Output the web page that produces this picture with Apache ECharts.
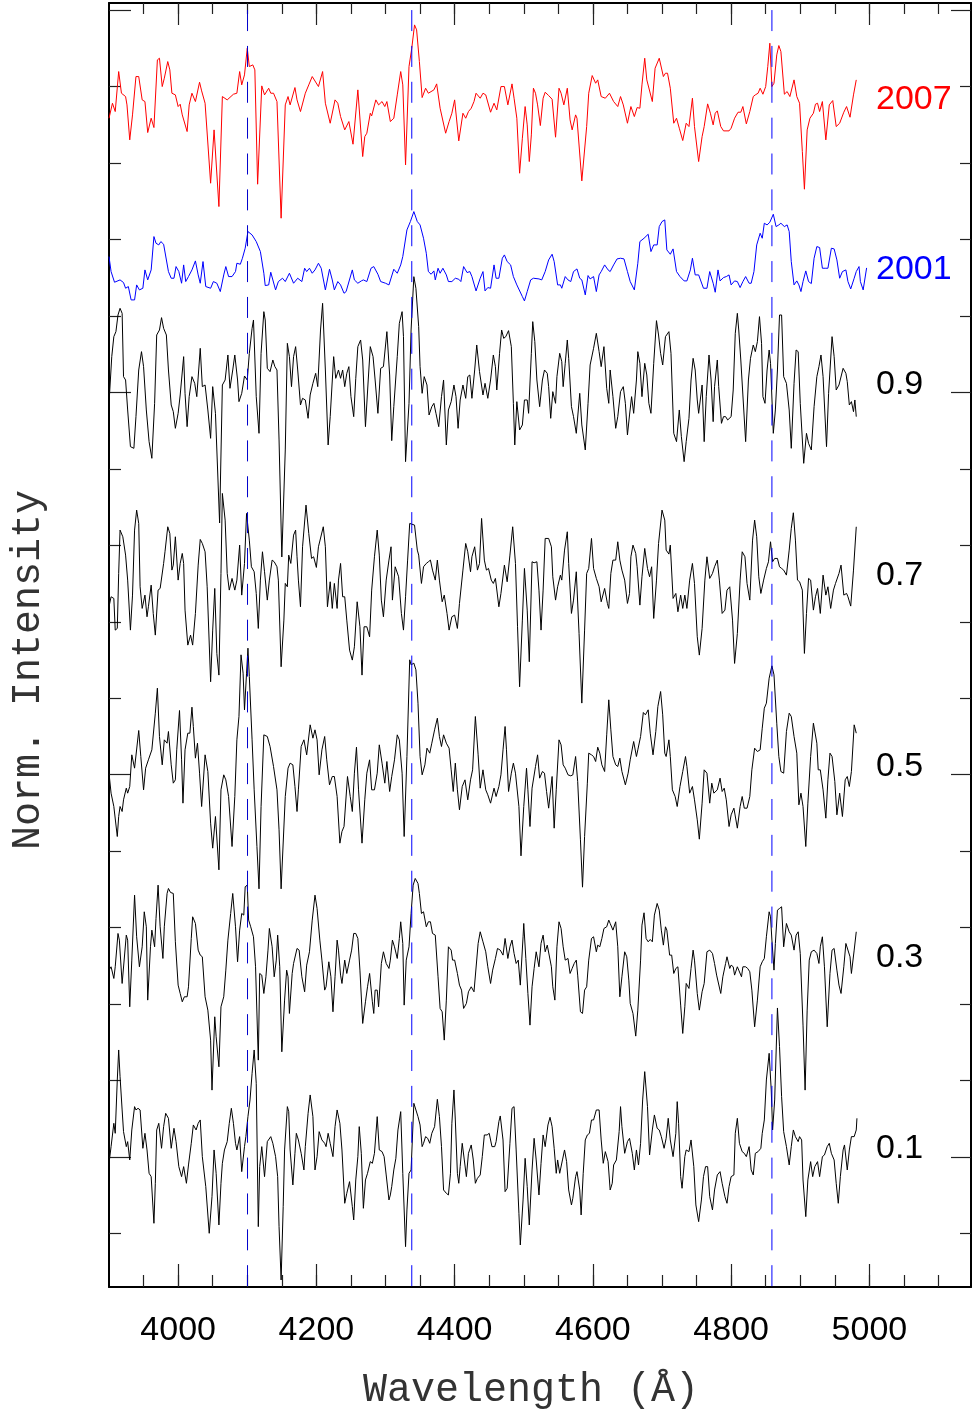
<!DOCTYPE html>
<html>
<head>
<meta charset="utf-8">
<title>Norm. Intensity vs Wavelength</title>
<script src="https://cdn.jsdelivr.net/npm/echarts@6/dist/echarts.min.js"></script>
<style>
    html, body { margin: 0; padding: 0; background: #fff; }
    #chart { width: 972px; height: 1414px; }
</style>
</head>
<body>
<div id="chart"></div>
<script>
// [wavelength (A), relative flux] ; flux in units of 1/1147 of the intensity axis
var spec2007 = [[3900,-40],[3905,5],[3909,-20],[3914,100],[3918,35],[3924,25],[3926,0],[3930,-105],[3934,-30],[3939,85],[3943,85],[3948,15],[3952,10],[3956,-83],[3961,-40],[3965,-68],[3970,135],[3973,140],[3977,55],[3980,80],[3985,130],[3988,105],[3991,35],[3996,30],[4000,-5],[4003,2],[4006,-30],[4013,-80],[4016,0],[4020,35],[4025,10],[4031,68],[4034,42],[4039,5],[4047,-235],[4052,-75],[4059,-305],[4064,25],[4071,15],[4080,32],[4085,35],[4089,100],[4092,60],[4096,90],[4100,170],[4103,115],[4108,120],[4111,105],[4115,-238],[4121,57],[4125,30],[4131,50],[4134,35],[4138,35],[4143,10],[4149,-340],[4155,0],[4159,25],[4162,0],[4169,52],[4172,15],[4177,-20],[4184,35],[4189,60],[4194,85],[4203,55],[4209,100],[4213,5],[4220,-55],[4227,15],[4231,5],[4235,-35],[4241,-75],[4247,-50],[4253,-118],[4260,45],[4267,-155],[4270,-95],[4273,-85],[4278,-25],[4280,-33],[4286,15],[4290,0],[4295,10],[4299,-5],[4302,10],[4307,-50],[4312,-40],[4317,30],[4322,100],[4325,60],[4329,-180],[4334,115],[4338,170],[4342,240],[4345,225],[4349,130],[4353,22],[4358,50],[4362,35],[4370,45],[4374,63],[4379,-10],[4387,-85],[4392,-50],[4396,-25],[4400,15],[4406,-108],[4412,-25],[4416,-40],[4420,-20],[4424,-10],[4428,10],[4431,35],[4437,20],
    [4441,35],[4445,30],[4452,-22],[4457,5],[4461,-15],[4467,55],[4472,55],[4477,0],[4483,63],[4486,20],[4490,-40],[4494,-205],[4498,-100],[4502,-5],[4505,-60],[4508,-170],[4511,-90],[4514,50],[4517,35],[4520,0],[4524,-62],[4528,20],[4531,38],[4536,28],[4541,17],[4546,-97],[4551,50],[4554,35],[4558,0],[4563,50],[4567,-45],[4570,-75],[4575,-30],[4577,-40],[4584,-228],[4591,-65],[4594,35],[4599,88],[4604,65],[4607,75],[4612,25],[4618,20],[4624,35],[4630,10],[4636,-5],[4640,25],[4644,0],[4650,-55],[4655,-5],[4660,-35],[4664,-8],[4668,-10],[4671,60],[4675,140],[4678,75],[4686,10],[4690,110],[4696,140],[4702,85],[4705,95],[4708,95],[4712,50],[4717,-55],[4721,-40],[4725,-70],[4730,-107],[4735,-55],[4739,-65],[4744,20],[4747,-65],[4753,-170],[4758,-95],[4761,-65],[4766,3],[4770,-25],[4774,-60],[4777,-25],[4780,-18],[4785,-65],[4789,-78],[4797,-78],[4800,-70],[4805,-40],[4810,-22],[4814,-22],[4817,-5],[4822,-57],[4827,-20],[4832,25],[4835,30],[4839,35],[4842,50],[4846,32],[4850,55],[4853,115],[4856,185],[4859,55],[4862,65],[4866,150],[4869,178],[4872,160],[4877,32],[4881,40],[4885,25],[4891,75],[4895,25],[4899,5],[4903,-140],[4906,-253],[4910,-75],[4914,-40],[4919,-25],[4922,2],[4925,5],[4928,-20],[4932,10],[4937,-105],[4942,0],[4947,13],[4952,-65],[4957,-55],[4963,-22],[4967,-5],[4972,-37],[4977,30],[4981,75]];

var spec2001 = [[3900,45],[3903,0],[3908,-32],[3916,-25],[3921,-33],[3924,-50],[3928,-45],[3932,-85],[3937,-85],[3940,-40],[3944,-55],[3949,-50],[3952,5],[3956,-25],[3961,5],[3965,105],[3968,85],[3972,80],[3975,90],[3979,82],[3981,88],[3986,0],[3990,-20],[3994,-20],[3997,15],[4001,0],[4005,-35],[4008,20],[4011,-30],[4015,-15],[4020,5],[4025,32],[4029,-10],[4032,-35],[4036,30],[4040,-45],[4047,-50],[4051,-30],[4056,-35],[4061,-60],[4066,-10],[4069,15],[4073,-15],[4078,-15],[4083,0],[4085,25],[4090,22],[4093,40],[4097,70],[4101,120],[4107,110],[4113,90],[4119,60],[4124,-5],[4126,-42],[4131,-40],[4134,-2],[4141,-55],[4145,-30],[4151,-20],[4155,-30],[4161,-5],[4167,-35],[4173,-20],[4179,-30],[4183,10],[4186,0],[4190,10],[4194,-5],[4198,5],[4203,25],[4207,10],[4213,-55],[4219,7],[4223,-25],[4226,-55],[4231,-30],[4235,-40],[4240,-65],[4243,-60],[4252,5],[4255,-25],[4260,-35],[4265,-28],[4268,-25],[4273,-30],[4279,10],[4283,15],[4289,-8],[4293,-30],[4300,-35],[4305,-40],[4312,7],[4317,-5],[4322,20],[4325,45],[4331,125],[4336,150],[4341,180],[4346,150],[4350,140],[4355,100],[4359,55],[4362,0],[4366,-8],[4370,2],[4372,-25],[4376,10],[4379,-5],[4383,10],[4388,-10],[4391,-30],[4396,-30],[4401,-20],[4406,-23],[4409,-30],[4413,15],[4418,-3],[4422,0],[4425,-15],[4431,-58],[4437,-20],
    [4441,0],[4444,-58],[4448,-48],[4452,-50],[4457,20],[4460,-20],[4464,-20],[4469,40],[4472,50],[4476,30],[4481,20],[4485,-15],[4490,-40],[4498,-75],[4501,-88],[4505,-60],[4510,-25],[4514,-20],[4522,-22],[4526,-25],[4531,0],[4536,35],[4541,52],[4544,30],[4549,-40],[4553,-40],[4555,-50],[4560,-15],[4564,-25],[4568,-30],[4572,0],[4577,8],[4581,-20],[4584,-25],[4589,-70],[4593,-12],[4596,-22],[4601,-15],[4605,-60],[4609,-10],[4612,0],[4617,20],[4622,5],[4625,0],[4630,20],[4635,38],[4640,40],[4645,38],[4650,0],[4654,-30],[4660,-55],[4665,25],[4668,90],[4674,100],[4680,112],[4684,60],[4688,80],[4693,80],[4696,135],[4700,150],[4704,155],[4707,65],[4712,52],[4716,68],[4721,0],[4726,-15],[4732,-28],[4736,-28],[4741,5],[4744,40],[4748,-10],[4753,-10],[4760,-50],[4765,-50],[4769,0],[4774,-35],[4777,-62],[4781,5],[4784,-28],[4789,-18],[4793,-15],[4797,-10],[4800,-40],[4805,-28],[4809,-30],[4813,-48],[4817,-30],[4821,-15],[4826,-35],[4829,-35],[4833,0],[4837,80],[4842,115],[4845,100],[4848,145],[4852,140],[4856,148],[4861,172],[4865,135],[4869,140],[4872,145],[4877,135],[4881,140],[4884,120],[4887,30],[4891,-40],[4895,-28],[4898,-40],[4901,-60],[4904,-30],[4908,2],[4912,-30],[4916,-36],[4920,40],[4924,75],[4928,72],[4932,10],[4937,10],[4940,10],[4945,70],[4949,68],[4953,35],[4957,-20],[4961,0],[4966,5],[4969,-30],[4973,-52],[4978,-20],[4981,0],[4985,15],[4987,-30],[4991,-55],[4996,11]];

var phase09 = [[3900,-50],[3904,90],[3907,150],[3910,165],[3913,215],[3916,235],[3919,220],[3921,30],[3924,20],[3927,-70],[3931,-180],[3936,-185],[3939,-90],[3943,50],[3947,105],[3950,60],[3954,-70],[3958,-165],[3962,-215],[3966,-50],[3969,155],[3973,170],[3976,207],[3979,175],[3983,155],[3986,50],[3990,-55],[3993,-75],[3996,-125],[4000,-80],[4003,-25],[4008,90],[4010,-20],[4013,-120],[4016,-30],[4020,30],[4024,10],[4027,-30],[4032,115],[4035,0],[4039,5],[4043,-70],[4047,-155],[4050,0],[4054,-80],[4060,-409],[4064,5],[4068,20],[4072,95],[4075,-5],[4079,50],[4082,95],[4086,20],[4088,-45],[4092,-20],[4096,32],[4100,20],[4103,100],[4107,175],[4109,200],[4113,-30],[4117,-140],[4120,100],[4124,225],[4126,200],[4129,55],[4133,45],[4137,80],[4140,60],[4143,50],[4146,-160],[4150,-511],[4155,-190],[4158,130],[4161,90],[4164,0],[4167,90],[4170,120],[4173,50],[4177,-55],[4180,-35],[4184,-40],[4188,-95],[4191,-25],[4195,10],[4199,40],[4202,0],[4206,170],[4209,250],[4213,50],[4217,-175],[4220,-90],[4225,90],[4228,25],[4232,50],[4235,25],[4238,50],[4241,0],[4244,40],[4247,60],[4250,-30],[4254,-90],[4257,25],[4260,120],[4264,140],[4267,80],[4271,-120],[4275,20],[4278,120],[4282,90],[4285,20],[4289,-80],[4293,55],[4297,60],[4302,165],[4306,35],[4309,-162],[4312,-60],[4317,90],[4320,190],[4324,225],[4326,150],[4329,-225],[4331,-230],[4334,-50],[4337,170],[4341,330],[4344,295],[4348,180],[4350,60],[4353,-20],[4356,30],[4360,5],[4363,-85],[4367,-60],[4370,-50],[4373,-80],[4377,-120],[4381,-30],[4384,20],[4388,-175],[4391,-70],[4395,-45],[4399,5],[4402,-30],[4405,-125],[4408,-40],[4412,5],[4416,-35],[4419,30],[4422,35],[4425,-35],[4429,50],[4432,125],[4436,45],
    [4441,-25],[4444,10],[4448,-35],[4452,20],[4456,95],[4459,60],[4461,-10],[4465,100],[4468,170],[4471,145],[4474,150],[4478,168],[4482,120],[4485,-50],[4487,-175],[4490,-45],[4494,-130],[4498,-115],[4501,-40],[4505,-40],[4507,-80],[4511,100],[4513,195],[4516,135],[4519,20],[4523,-60],[4527,20],[4530,50],[4534,40],[4536,0],[4539,-95],[4542,-15],[4546,-50],[4548,30],[4552,100],[4555,75],[4557,0],[4560,70],[4563,140],[4565,85],[4569,-60],[4572,-90],[4576,-140],[4581,-20],[4584,-115],[4589,-190],[4593,-50],[4596,65],[4601,115],[4605,160],[4609,105],[4612,60],[4616,120],[4620,-5],[4623,-50],[4625,50],[4629,-30],[4633,-125],[4636,-90],[4640,-15],[4644,0],[4647,-50],[4650,-145],[4653,-85],[4656,-30],[4659,-80],[4663,20],[4665,105],[4668,70],[4671,-30],[4675,70],[4678,35],[4681,-50],[4684,-80],[4688,70],[4692,198],[4695,155],[4698,100],[4701,65],[4705,150],[4710,165],[4713,100],[4717,-140],[4721,-165],[4725,-70],[4728,-150],[4732,-225],[4735,-165],[4739,-95],[4742,20],[4745,85],[4748,50],[4751,-40],[4753,-80],[4758,5],[4761,-165],[4764,-30],[4768,95],[4771,20],[4774,-105],[4776,0],[4780,80],[4782,0],[4786,-110],[4789,-90],[4792,-90],[4795,-100],[4800,-90],[4803,-10],[4806,160],[4809,220],[4811,170],[4814,80],[4817,-25],[4821,-165],[4825,20],[4828,85],[4832,125],[4835,105],[4838,135],[4841,210],[4844,130],[4846,-30],[4849,-50],[4852,50],[4855,110],[4857,70],[4861,-140],[4864,-70],[4867,50],[4870,215],[4873,215],[4876,30],[4880,10],[4884,-70],[4887,-185],[4891,10],[4894,110],[4897,105],[4900,-50],[4905,-230],[4909,-140],[4912,-170],[4916,-190],[4920,-60],[4924,30],[4927,60],[4930,95],[4933,30],[4938,-180],[4941,-20],[4946,150],[4949,90],[4952,-10],[4956,5],[4958,5],[4962,55],[4966,40],[4968,15],[4971,-55],[4974,-45],[4977,-75],[4979,-40],[4981,-90]];

var phase07 = [[3900,-80],[3903,-50],[3907,-55],[3909,-150],[3912,-145],[3914,20],[3916,150],[3920,130],[3924,75],[3927,0],[3931,-150],[3934,-45],[3937,150],[3940,210],[3943,170],[3945,-20],[3948,-85],[3952,-45],[3955,-110],[3957,-80],[3961,-15],[3964,-100],[3967,-165],[3971,-30],[3974,-25],[3979,50],[3981,85],[3985,160],[3988,140],[3991,30],[3993,45],[3996,130],[4000,0],[4003,50],[4006,80],[4008,50],[4010,-90],[4014,-195],[4018,-165],[4021,-195],[4025,-100],[4029,45],[4032,122],[4035,110],[4039,85],[4042,-20],[4047,-305],[4050,-150],[4053,-25],[4056,-220],[4059,-285],[4062,20],[4064,260],[4068,180],[4071,20],[4074,-30],[4078,5],[4082,-30],[4085,0],[4089,105],[4092,-45],[4096,50],[4099,200],[4103,120],[4106,40],[4110,25],[4113,-40],[4116,-145],[4119,0],[4122,85],[4125,25],[4129,-60],[4132,0],[4136,60],[4139,55],[4143,40],[4145,0],[4149,-260],[4153,-120],[4155,-10],[4158,-20],[4160,75],[4163,50],[4167,135],[4170,150],[4172,70],[4174,0],[4177,-80],[4180,100],[4185,225],[4189,140],[4193,65],[4196,70],[4200,38],[4203,100],[4210,160],[4213,100],[4216,-80],[4220,-5],[4223,-85],[4226,-10],[4230,-85],[4232,0],[4235,50],[4238,-50],[4241,-50],[4244,-120],[4248,-210],[4252,-240],[4255,-200],[4259,-65],[4263,-140],[4266,-285],[4269,-140],[4273,-140],[4277,-170],[4280,-30],[4284,70],[4288,150],[4291,75],[4294,-60],[4297,-110],[4301,0],[4305,60],[4308,100],[4310,-60],[4314,40],[4319,10],[4323,-100],[4326,-150],[4329,-50],[4332,60],[4335,170],[4337,172],[4342,165],[4346,90],[4348,75],[4352,-10],[4355,40],[4359,50],[4362,55],[4365,60],[4368,30],[4372,0],[4375,60],[4378,0],[4382,-65],[4385,-45],[4389,-100],[4392,-150],[4396,-110],[4400,-105],[4404,-145],[4407,-70],[4412,30],[4416,110],[4419,85],[4423,25],[4425,70],[4429,100],[4433,30],[4436,50],
    [4439,185],[4443,60],[4446,30],[4449,35],[4453,0],[4456,-10],[4459,5],[4464,-80],[4467,-40],[4472,45],[4476,-5],[4480,75],[4484,160],[4488,50],[4491,-140],[4494,-320],[4498,-120],[4501,35],[4505,-90],[4508,-245],[4512,55],[4515,52],[4519,55],[4522,-30],[4525,-150],[4528,-30],[4531,125],[4536,125],[4540,100],[4542,10],[4546,-60],[4549,-20],[4553,15],[4555,0],[4559,90],[4563,145],[4565,50],[4569,-100],[4572,-60],[4576,25],[4580,-160],[4584,-369],[4588,-150],[4591,20],[4594,35],[4598,125],[4601,35],[4605,5],[4609,-20],[4612,-65],[4617,-25],[4621,-70],[4623,-85],[4626,20],[4629,60],[4633,60],[4636,115],[4639,60],[4642,30],[4646,0],[4650,-70],[4653,-40],[4655,70],[4658,105],[4662,80],[4664,40],[4668,-75],[4671,10],[4675,95],[4679,35],[4682,10],[4685,40],[4688,-115],[4692,0],[4695,110],[4700,210],[4704,180],[4706,90],[4710,78],[4712,105],[4716,-55],[4720,-40],[4723,-95],[4727,-45],[4730,-85],[4733,-45],[4736,-85],[4740,0],[4744,50],[4747,-10],[4751,-170],[4754,-225],[4758,-145],[4762,0],[4765,70],[4769,5],[4773,20],[4776,40],[4780,60],[4783,0],[4787,-100],[4791,-90],[4794,-30],[4798,-20],[4802,-120],[4805,-250],[4809,-160],[4813,0],[4816,85],[4820,70],[4823,-10],[4827,-60],[4831,120],[4834,180],[4837,130],[4840,10],[4843,-40],[4847,0],[4851,35],[4854,55],[4857,115],[4860,55],[4863,65],[4867,65],[4870,40],[4873,35],[4876,30],[4880,15],[4884,90],[4887,155],[4890,202],[4893,120],[4896,0],[4899,-5],[4903,-30],[4906,-220],[4909,-100],[4912,5],[4915,0],[4919,-90],[4922,-50],[4925,-25],[4929,-100],[4933,15],[4937,-45],[4940,-20],[4944,-85],[4948,-30],[4951,-10],[4956,20],[4959,45],[4963,-45],[4967,-40],[4969,-50],[4973,-78],[4977,30],[4981,160]];

var phase05 = [[3900,0],[3903,-60],[3907,-100],[3912,-190],[3914,-130],[3916,-100],[3919,-115],[3921,-80],[3925,-45],[3927,-60],[3930,-40],[3933,55],[3937,15],[3943,128],[3946,50],[3950,-50],[3953,15],[3957,40],[3962,70],[3967,180],[3970,255],[3973,110],[3977,25],[3980,100],[3984,90],[3986,125],[3990,25],[3993,-30],[3996,-20],[3998,70],[4002,188],[4005,40],[4007,-90],[4010,70],[4014,120],[4017,120],[4020,198],[4022,140],[4025,45],[4028,90],[4031,0],[4034,-100],[4039,55],[4043,5],[4047,-150],[4050,-225],[4054,-130],[4059,-290],[4062,-50],[4066,-5],[4069,-20],[4073,-70],[4078,-220],[4082,-70],[4085,100],[4088,170],[4091,355],[4094,300],[4096,190],[4099,300],[4101,375],[4103,290],[4107,100],[4110,-50],[4114,-220],[4117,-347],[4120,-100],[4124,115],[4129,110],[4133,80],[4138,20],[4143,-50],[4146,-170],[4149,-347],[4155,-70],[4159,15],[4162,30],[4166,25],[4169,-40],[4172,-115],[4174,-50],[4178,80],[4182,100],[4186,55],[4191,145],[4195,105],[4198,130],[4201,100],[4204,-5],[4208,70],[4212,110],[4215,40],[4219,-35],[4223,-10],[4226,-10],[4230,-70],[4234,-210],[4237,-175],[4240,-160],[4245,-10],[4249,-70],[4252,-115],[4255,0],[4258,78],[4261,-50],[4266,-210],[4270,-80],[4273,0],[4277,40],[4280,-50],[4284,-50],[4288,0],[4291,85],[4295,30],[4299,-30],[4302,35],[4306,-55],[4309,-10],[4313,40],[4317,115],[4320,100],[4324,0],[4327,-190],[4331,50],[4335,340],[4337,325],[4341,330],[4344,310],[4347,210],[4350,50],[4353,-5],[4357,25],[4360,75],[4364,60],[4367,90],[4371,130],[4375,165],[4378,110],[4381,80],[4384,115],[4388,90],[4392,75],[4395,10],[4398,-55],[4401,30],[4404,-50],[4407,-110],[4411,-40],[4415,-20],[4419,-80],[4423,-20],[4426,10],[4430,170],[4434,55],[4437,-45],
    [4441,10],[4445,-50],[4448,-65],[4452,-90],[4457,-45],[4460,-70],[4464,-40],[4467,-5],[4470,70],[4473,140],[4475,70],[4478,-55],[4482,0],[4485,30],[4488,0],[4490,-5],[4493,-100],[4496,-248],[4500,-100],[4504,15],[4506,-50],[4509,-160],[4512,-45],[4517,20],[4520,55],[4523,-15],[4527,5],[4530,0],[4533,-55],[4536,-105],[4541,-10],[4544,-165],[4547,-50],[4551,100],[4554,85],[4557,25],[4560,15],[4564,-5],[4568,-8],[4571,-5],[4575,50],[4578,-25],[4582,-200],[4585,-342],[4588,-190],[4592,-30],[4594,60],[4598,55],[4601,50],[4604,35],[4607,78],[4610,60],[4613,25],[4617,5],[4620,115],[4623,220],[4626,130],[4629,50],[4633,25],[4636,20],[4639,45],[4642,5],[4647,-35],[4651,0],[4654,40],[4659,95],[4663,50],[4665,70],[4669,110],[4673,182],[4676,175],[4680,190],[4683,120],[4687,55],[4691,125],[4694,200],[4698,245],[4701,175],[4704,60],[4706,50],[4710,100],[4712,50],[4715,-50],[4719,-70],[4722,-100],[4726,-40],[4730,5],[4734,50],[4736,20],[4740,-60],[4744,-40],[4747,-80],[4751,-140],[4754,-198],[4758,-90],[4761,10],[4765,0],[4769,-90],[4772,-30],[4775,-60],[4780,-50],[4784,-15],[4787,-55],[4790,-45],[4793,-80],[4797,-160],[4800,-125],[4804,-105],[4809,-165],[4813,-100],[4816,-70],[4819,-105],[4823,-105],[4827,-70],[4830,10],[4834,75],[4838,65],[4842,70],[4845,135],[4848,195],[4851,210],[4855,285],[4859,322],[4862,295],[4866,150],[4869,50],[4872,5],[4876,0],[4880,125],[4884,180],[4887,170],[4891,110],[4895,60],[4898,-95],[4901,-60],[4904,-100],[4908,-220],[4911,-90],[4915,50],[4919,150],[4921,155],[4924,90],[4926,10],[4929,10],[4933,-50],[4937,-135],[4940,-20],[4943,60],[4946,50],[4950,-25],[4953,-125],[4957,-60],[4961,-130],[4965,-20],[4968,-10],[4971,-40],[4974,5],[4978,145],[4981,120]];

var phase03 = [[3900,-30],[3903,-20],[3907,-55],[3909,-20],[3913,80],[3915,60],[3919,-70],[3921,-75],[3925,75],[3927,60],[3930,-140],[3933,0],[3937,195],[3940,70],[3944,-20],[3948,40],[3951,145],[3954,100],[3956,-120],[3960,40],[3962,90],[3966,40],[3968,125],[3971,225],[3974,100],[3978,5],[3980,100],[3984,200],[3986,215],[3989,203],[3993,200],[3996,55],[4000,-75],[4003,-100],[4006,-125],[4009,-110],[4013,-110],[4015,-80],[4019,65],[4021,130],[4025,110],[4029,30],[4032,15],[4035,10],[4039,-110],[4043,-150],[4047,-240],[4049,-390],[4053,-170],[4055,-230],[4059,-320],[4062,-140],[4066,-110],[4069,-30],[4072,60],[4076,140],[4079,200],[4083,100],[4086,-5],[4089,90],[4092,140],[4095,135],[4097,220],[4100,225],[4102,120],[4105,100],[4109,70],[4112,-20],[4116,-300],[4118,-40],[4121,-45],[4124,-100],[4127,-50],[4130,30],[4132,95],[4136,40],[4139,-50],[4142,0],[4144,75],[4147,-20],[4150,-275],[4154,-120],[4157,-30],[4159,-50],[4161,-160],[4165,-40],[4167,-10],[4172,35],[4175,30],[4179,-50],[4183,-95],[4186,-15],[4190,25],[4194,120],[4198,195],[4201,155],[4205,60],[4208,0],[4212,-90],[4214,-80],[4218,-5],[4221,-50],[4224,-155],[4227,-50],[4230,60],[4232,30],[4235,-45],[4237,-70],[4241,0],[4244,-40],[4248,0],[4251,30],[4254,80],[4257,80],[4260,65],[4263,-30],[4267,-190],[4271,-125],[4274,-80],[4277,-40],[4281,-125],[4283,-160],[4285,-90],[4288,-90],[4290,-140],[4294,-10],[4297,25],[4301,-10],[4305,-25],[4307,0],[4310,60],[4313,40],[4317,5],[4320,65],[4322,115],[4325,50],[4327,-135],[4330,0],[4334,40],[4337,140],[4340,225],[4343,245],[4347,230],[4349,200],[4352,140],[4355,145],[4359,100],[4362,115],[4365,115],[4368,80],[4372,75],[4376,-50],[4379,-145],[4382,-155],[4385,-240],[4388,-120],[4391,40],[4395,30],[4397,0],[4400,0],[4404,-40],[4407,-75],[4410,-90],[4413,-145],[4417,-130],[4420,-95],[4424,-80],[4428,-95],[4430,-100],[4434,50],[4437,85],
    [4441,55],[4445,25],[4448,-20],[4452,-70],[4455,-30],[4459,5],[4462,35],[4466,30],[4470,15],[4473,65],[4477,5],[4480,40],[4483,60],[4486,20],[4489,-10],[4492,0],[4495,-75],[4499,70],[4500,110],[4503,5],[4506,-100],[4509,-195],[4512,-80],[4515,-25],[4518,25],[4522,-20],[4525,50],[4528,75],[4531,25],[4534,45],[4536,50],[4540,-20],[4542,-80],[4545,-120],[4548,40],[4551,115],[4554,95],[4557,40],[4560,0],[4564,5],[4567,-40],[4570,-25],[4573,-10],[4576,0],[4578,-45],[4582,-155],[4585,-160],[4588,-90],[4591,-80],[4594,0],[4598,65],[4601,70],[4605,25],[4607,45],[4610,40],[4613,65],[4616,95],[4620,100],[4623,120],[4625,110],[4629,90],[4633,115],[4636,40],[4639,-110],[4642,-50],[4646,25],[4649,10],[4652,-60],[4654,-130],[4658,-160],[4662,-228],[4665,-150],[4669,0],[4671,105],[4674,142],[4677,65],[4680,55],[4683,62],[4686,55],[4689,135],[4693,170],[4696,150],[4699,90],[4702,45],[4705,100],[4707,90],[4711,15],[4714,15],[4717,-40],[4720,-25],[4723,-20],[4727,-135],[4730,-220],[4733,-140],[4735,-70],[4739,-85],[4742,-25],[4745,30],[4747,0],[4751,-100],[4754,-150],[4758,-95],[4761,-70],[4765,25],[4769,30],[4773,20],[4776,-10],[4779,-45],[4781,-40],[4785,-100],[4788,-50],[4792,-10],[4794,10],[4798,-25],[4800,-15],[4803,-20],[4805,-45],[4809,-20],[4811,-30],[4815,-50],[4817,-20],[4821,-20],[4824,-25],[4827,-35],[4830,-90],[4834,-200],[4838,-120],[4842,-20],[4845,-5],[4848,5],[4851,70],[4855,145],[4857,130],[4859,60],[4862,-30],[4864,50],[4867,150],[4870,155],[4873,160],[4876,40],[4880,110],[4884,85],[4887,75],[4891,30],[4894,75],[4897,85],[4900,20],[4904,-195],[4907,-390],[4910,-150],[4913,0],[4916,25],[4920,30],[4924,20],[4927,-10],[4929,40],[4932,70],[4935,-20],[4939,-200],[4943,-40],[4946,30],[4949,35],[4953,-30],[4956,-75],[4959,-100],[4963,-20],[4966,50],[4968,55],[4972,10],[4974,-40],[4978,30],[4981,85]];

var phase01 = [[3900,-20],[3903,30],[3907,100],[3909,70],[3912,230],[3914,320],[3916,240],[3919,140],[3921,75],[3925,30],[3927,45],[3930,-10],[3933,80],[3937,150],[3939,140],[3942,145],[3945,140],[3949,25],[3952,70],[3955,20],[3958,-50],[3961,-60],[3965,-200],[3967,-80],[3969,80],[3972,100],[3976,25],[3979,90],[3982,130],[3986,115],[3990,25],[3994,85],[3997,45],[4001,-30],[4005,-60],[4008,-30],[4012,-80],[4015,-25],[4019,40],[4022,95],[4026,80],[4029,100],[4032,110],[4035,0],[4037,-5],[4040,-90],[4045,-230],[4049,-120],[4052,20],[4055,-50],[4059,-205],[4062,-80],[4064,-20],[4067,20],[4071,45],[4074,100],[4077,145],[4080,100],[4083,40],[4085,20],[4089,60],[4092,-45],[4096,30],[4098,60],[4101,120],[4104,170],[4107,250],[4110,320],[4113,220],[4116,-210],[4118,-30],[4121,30],[4125,-60],[4129,45],[4131,50],[4134,60],[4137,40],[4141,0],[4144,-60],[4146,-210],[4149,-370],[4152,-150],[4154,20],[4158,150],[4160,135],[4162,20],[4166,-85],[4169,10],[4171,70],[4174,50],[4178,10],[4182,-40],[4184,30],[4188,130],[4191,185],[4195,120],[4198,-40],[4201,0],[4204,75],[4208,50],[4212,40],[4214,30],[4217,70],[4220,40],[4224,0],[4227,90],[4230,140],[4234,100],[4237,20],[4241,-140],[4244,-110],[4248,-75],[4252,-150],[4254,-190],[4257,-70],[4260,0],[4262,90],[4265,10],[4268,-155],[4271,-70],[4274,-50],[4278,-15],[4281,-20],[4284,10],[4288,120],[4291,20],[4295,15],[4298,0],[4301,-55],[4305,-130],[4307,-115],[4309,-90],[4312,-40],[4315,-5],[4318,80],[4322,135],[4325,-50],[4329,-270],[4331,-160],[4334,-50],[4337,-40],[4341,160],[4343,165],[4347,120],[4350,95],[4353,30],[4355,40],[4358,60],[4361,55],[4364,40],[4367,70],[4371,90],[4375,172],[4378,120],[4381,30],[4384,-100],[4388,-110],[4391,-115],[4394,-50],[4396,100],[4399,200],[4401,110],[4404,-50],[4406,-80],[4408,-30],[4411,40],[4414,-10],[4417,-60],[4420,10],[4424,35],[4427,-10],[4430,-80],[4433,-65],[4437,-55],
    [4440,0],[4443,65],[4447,65],[4450,70],[4454,30],[4458,30],[4460,45],[4464,105],[4466,122],[4470,50],[4473,-105],[4476,-95],[4480,40],[4483,145],[4486,150],[4489,20],[4493,-170],[4495,-265],[4499,-130],[4502,-5],[4505,-90],[4508,-205],[4512,-40],[4515,55],[4518,-10],[4522,-115],[4525,-20],[4528,65],[4531,30],[4535,95],[4538,118],[4541,90],[4544,25],[4547,-50],[4549,-10],[4552,-50],[4556,-10],[4559,20],[4562,-15],[4565,-100],[4569,-145],[4571,-125],[4575,-60],[4577,-45],[4581,-100],[4583,-175],[4586,-50],[4589,50],[4592,65],[4595,70],[4598,110],[4601,110],[4605,140],[4609,140],[4612,50],[4615,-20],[4618,15],[4622,-15],[4625,-100],[4628,-80],[4630,-25],[4634,-10],[4638,75],[4640,150],[4642,90],[4646,10],[4650,45],[4653,55],[4657,10],[4660,-40],[4663,20],[4666,-25],[4669,40],[4672,170],[4675,255],[4679,150],[4682,5],[4686,80],[4689,125],[4693,85],[4696,80],[4699,60],[4703,25],[4706,55],[4709,115],[4712,50],[4716,0],[4720,70],[4722,165],[4724,100],[4727,-60],[4729,-95],[4733,0],[4735,20],[4739,15],[4742,50],[4746,-30],[4749,-145],[4753,-195],[4757,-130],[4760,-60],[4763,-30],[4766,-30],[4769,-120],[4773,-160],[4776,-100],[4780,-55],[4784,-45],[4787,-80],[4791,-120],[4794,-140],[4797,-90],[4800,-60],[4804,-55],[4806,70],[4809,115],[4812,40],[4816,15],[4819,10],[4822,0],[4826,30],[4829,-40],[4832,-55],[4835,10],[4839,15],[4843,25],[4845,70],[4848,110],[4851,230],[4855,310],[4858,200],[4860,80],[4863,170],[4867,446],[4870,330],[4873,180],[4876,75],[4880,30],[4884,-25],[4887,30],[4890,80],[4893,60],[4897,45],[4899,60],[4902,50],[4904,-70],[4908,-180],[4911,-70],[4915,-15],[4918,-60],[4921,-30],[4925,-15],[4928,-60],[4932,0],[4935,5],[4939,30],[4942,40],[4945,10],[4949,-10],[4952,-80],[4955,-140],[4958,-60],[4962,20],[4964,35],[4968,-40],[4971,20],[4974,60],[4978,60],[4981,80],[4982,115]];

var spectra = [spec2007, spec2001, phase09, phase07, phase05, phase03, phase01];
var names = ['2007', '2001', '0.9', '0.7', '0.5', '0.3', '0.1'];
var offsets = [3.752, 3.316, 3.015, 2.509, 2.004, 1.515, 1.001];
var fluxScale = 1 / 1147;
var colors = ['#ff0000', '#0000ff', '#000000', '#000000', '#000000', '#000000', '#000000'];
var labelTops = [97, 267, 382, 573, 764, 955, 1146];

// dashed marker lines (Hdelta, Hgamma, Hbeta)
var lineWaves = [4100.4, 4338, 4859];
var lineColors = ['#0000cc', '#0000ff', '#0000ff'];

var xMajor = [4000, 4200, 4400, 4600, 4800, 5000];
var yMajor = [1, 2, 3, 4];

var xMinor = [], yMinor = [];
for (var w = 3950; w <= 5100; w += 50) xMinor.push(w);
for (var k = 4; k <= 19; k++) { if (k % 5) yMinor.push(k / 5); }

var xMin = 3900, xMax = 5147, yMin = 0.66, yMax = 4.0185;

var chart = echarts.init(document.getElementById('chart'), null, { renderer: 'canvas' });

function xAxisDef(pos, ticks, len, showLine, showLabel) {
    return {
        type: 'value', position: pos, min: xMin, max: xMax, gridIndex: 0,
        axisLine: { show: showLine, lineStyle: { color: '#000', width: 2 } },
        axisTick: { show: true, inside: true, length: len, customValues: ticks,
            lineStyle: { color: '#222', width: 1.2 } },
        axisLabel: { show: showLabel, customValues: xMajor, margin: 27,
            formatter: function (v) { return String(v); },
            fontSize: 34, color: '#000', fontFamily: 'Liberation Sans, Arial, sans-serif' },
        splitLine: { show: false }
    };
}

function yAxisDef(pos, ticks, len, showLine) {
    return {
        type: 'value', position: pos, min: yMin, max: yMax, gridIndex: 0,
        axisLine: { show: showLine, lineStyle: { color: '#000', width: 2 } },
        axisTick: { show: true, inside: true, length: len, customValues: ticks,
            lineStyle: { color: '#222', width: 1.2 } },
        axisLabel: { show: false },
        splitLine: { show: false }
    };
}

var series = spectra.map(function (spec, i) {
    return {
        type: 'line', name: names[i], xAxisIndex: 0, yAxisIndex: 0,
        showSymbol: false, silent: true, z: 2,
        lineStyle: { color: colors[i], width: 1 },
        data: spec.map(function (p) { return [p[0], offsets[i] + p[1] * fluxScale]; })
    };
});

lineWaves.forEach(function (w, i) {
    series.push({
        type: 'line', xAxisIndex: 0, yAxisIndex: 0, showSymbol: false, silent: true, z: 3,
        lineStyle: { color: lineColors[i], width: 1, type: [21, 14.86] },
        data: [[w, 4.0], [w, yMin]]
    });
});

var graphics = names.map(function (n, i) {
    return {
        type: 'text', left: 876, top: labelTops[i] - 14,
        style: { text: n, fill: colors[i], fontSize: 34,
            fontFamily: 'Liberation Sans, Arial, sans-serif' }
    };
});
graphics.push({
    type: 'text', left: 363, top: 1370,
    style: { text: 'Wavelength (\u00c5)', fill: '#333', fontSize: 40,
        fontFamily: 'Liberation Mono, DejaVu Sans Mono, monospace' }
});
graphics.push({
    type: 'text', x: 8, y: 850, rotation: Math.PI / 2,
    style: { text: 'Norm. Intensity', fill: '#333', fontSize: 40,
        fontFamily: 'Liberation Mono, DejaVu Sans Mono, monospace' }
});

chart.setOption({
    animation: false,
    backgroundColor: '#fff',
    grid: { left: 109, right: 1, top: 3, bottom: 127, containLabel: false, outerBoundsMode: 'none' },
    xAxis: [
        xAxisDef('bottom', xMajor, 23, true, true),
        xAxisDef('top', xMajor, 22, true, false),
        xAxisDef('bottom', xMinor, 12, false, false),
        xAxisDef('top', xMinor, 11, false, false)
    ],
    yAxis: [
        yAxisDef('left', yMajor, 22, true),
        yAxisDef('right', yMajor, 20, true),
        yAxisDef('left', yMinor, 12, false),
        yAxisDef('right', yMinor, 11, false)
    ],
    series: series,
    graphic: graphics
});
</script>
</body>
</html>
